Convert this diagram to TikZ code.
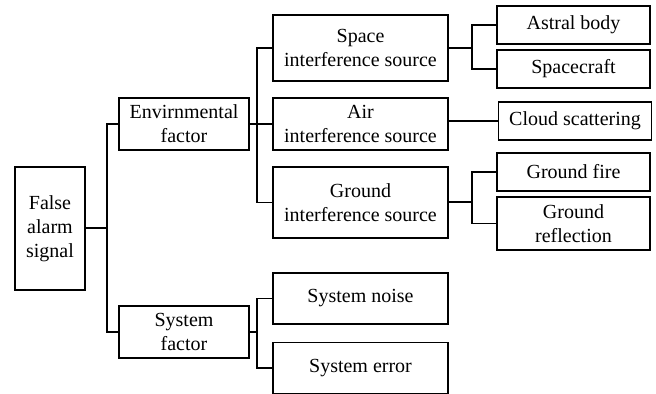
\documentclass[tikz,border=0pt]{standalone}
\usepackage{fontspec}
\setmainfont{Liberation Serif}
\usetikzlibrary{calc}
\tikzstyle{box} = [draw, rectangle, line width=0.6pt, align=center, inner sep=0pt, font=\fontsize{10}{12}\selectfont]
\tikzstyle{rootbox} = [box, minimum width=35pt, minimum height=61.5pt]
\tikzstyle{factor} = [box, minimum width=65pt, minimum height=26pt]
\tikzstyle{source} = [box, minimum width=87.5pt, minimum height=26pt]
\tikzstyle{cause} = [box, minimum width=76.5pt, minimum height=19pt]
\tikzstyle{link} = [line width=0.6pt]
\tikzstyle{stub} = [line width=1pt]

\begin{document}
\begin{tikzpicture}[x=0.5pt, y=-0.5pt]
  \useasboundingbox (0,0) rectangle (656,394);

  % root and the two factors
  \node[rootbox] (root) at (50,228.5) {False\\alarm\\signal};
  \node[factor] (env) at (184,124) {Envirnmental\\factor};
  \node[factor] (sys) at (184,332) {System\\factor};

  % interference sources and system causes
  \node[source, minimum height=33pt] (space) at (360.5,48) {Space\\interference source};
  \node[source] (air) at (360.5,124) {Air\\interference source};
  \node[source, minimum height=35.5pt] (ground) at (360.5,202.5) {Ground\\interference source};
  \node[source, minimum height=25.5pt] (noise) at (360.5,298.5) {System noise};
  \node[source, minimum height=25.5pt] (error) at (360.5,368) {System error};

  % leaves
  \node[cause] (astral) at (573.5,25) {Astral body};
  \node[cause] (craft) at (573.5,69) {Spacecraft};
  \node[cause] (cloud) at (575,121) {Cloud scattering};
  \node[cause] (gfire) at (573.5,172) {Ground fire};
  \node[cause, minimum height=26.5pt] (grefl) at (573.5,223.5) {Ground\\reflection};

  % trunk positions
  \coordinate (t1) at (107,0);
  \coordinate (t2) at (257,0);
  \coordinate (t3) at (472,0);

  \draw[stub] (root.east) -- (t1 |- root.east);
  \foreach \kid in {env,sys}
    \draw[link] (\kid.west) -| (t1 |- root.east);

  \draw[stub] (env.east) -- (t2 |- env.east);
  \foreach \kid in {space,air,ground}
    \draw[link] (\kid.west) -| (t2 |- env.east);

  \draw[stub] (sys.east) -- (t2 |- sys.east);
  \foreach \kid in {noise,error}
    \draw[link] (\kid.west) -| (t2 |- sys.east);

  \draw[stub] (space.east) -- (t3 |- space.east);
  \foreach \kid in {astral,craft}
    \draw[link] (\kid.west) -| (t3 |- space.east);

  \draw[link] (cloud.west) -- (cloud.west -| air.east);

  \draw[stub] (ground.east) -- (t3 |- ground.east);
  \foreach \kid in {gfire,grefl}
    \draw[link] (\kid.west) -| (t3 |- ground.east);
\end{tikzpicture}
\end{document}
